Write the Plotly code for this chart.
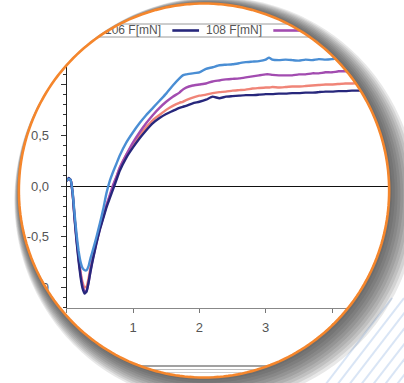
import numpy as np
import plotly.graph_objects as go

# ---------------- data ----------------
time_s = [0.00, 0.03, 0.06, 0.09, 0.12, 0.15, 0.18, 0.21, 0.24, 0.27, 0.30, 0.33, 0.36, 0.40,
          0.45, 0.50, 0.55, 0.60, 0.65, 0.70, 0.75, 0.80, 0.90, 1.00, 1.10, 1.20, 1.30, 1.40,
          1.50, 1.60, 1.70, 1.75, 1.80, 1.90, 2.00, 2.10, 2.20, 2.30, 2.40, 2.50, 2.60, 2.70,
          2.80, 2.90, 3.00, 3.05, 3.10, 3.20, 3.30, 3.40, 3.50, 3.60, 3.70, 3.80, 3.90, 4.00,
          4.10, 4.20, 4.30, 4.40, 4.50, 4.60, 4.70, 4.80, 4.90, 5.00]

f_104 = [0.05, 0.07, 0.06, -0.06, -0.28, -0.48, -0.64, -0.75, -0.81, -0.83, -0.83, -0.79, -0.71, -0.62,
         -0.50, -0.37, -0.23, -0.07, 0.05, 0.14, 0.22, 0.30, 0.43, 0.53, 0.62, 0.70, 0.77, 0.84,
         0.91, 0.99, 1.06, 1.09, 1.10, 1.11, 1.12, 1.155, 1.17, 1.19, 1.195, 1.20, 1.21, 1.22,
         1.225, 1.23, 1.245, 1.265, 1.245, 1.24, 1.245, 1.24, 1.235, 1.245, 1.24, 1.25, 1.245, 1.25,
         1.26, 1.255, 1.26, 1.26, 1.265, 1.26, 1.27, 1.27, 1.275, 1.28]

f_106 = [0.05, 0.07, 0.06, -0.07, -0.31, -0.52, -0.70, -0.85, -0.95, -1.00, -0.99, -0.91, -0.80, -0.68,
         -0.54, -0.41, -0.30, -0.19, -0.10, 0.00, 0.09, 0.18, 0.31, 0.41, 0.50, 0.58, 0.65, 0.70,
         0.75, 0.79, 0.82, 0.83, 0.845, 0.87, 0.89, 0.90, 0.915, 0.925, 0.93, 0.94, 0.945, 0.95,
         0.96, 0.965, 0.97, 0.97, 0.975, 0.97, 0.975, 0.98, 0.98, 0.985, 0.99, 0.995, 1.00, 1.00,
         1.005, 1.01, 1.01, 1.015, 1.02, 1.02, 1.02, 1.025, 1.03, 1.03]

f_108 = [0.05, 0.08, 0.06, -0.08, -0.33, -0.55, -0.74, -0.90, -1.01, -1.06, -1.04, -0.95, -0.84, -0.71,
         -0.56, -0.43, -0.32, -0.21, -0.12, -0.03, 0.06, 0.15, 0.28, 0.38, 0.47, 0.55, 0.62, 0.67,
         0.71, 0.74, 0.77, 0.78, 0.79, 0.815, 0.83, 0.85, 0.88, 0.865, 0.88, 0.885, 0.89, 0.895,
         0.895, 0.90, 0.905, 0.905, 0.905, 0.91, 0.91, 0.915, 0.915, 0.92, 0.92, 0.925, 0.93, 0.93,
         0.935, 0.935, 0.94, 0.94, 0.94, 0.945, 0.945, 0.95, 0.95, 0.95]

f_110 = [0.05, 0.07, 0.06, -0.07, -0.32, -0.53, -0.72, -0.87, -0.98, -1.04, -1.03, -0.95, -0.83, -0.70,
         -0.56, -0.42, -0.31, -0.19, -0.09, 0.01, 0.09, 0.18, 0.31, 0.43, 0.53, 0.62, 0.70, 0.77,
         0.83, 0.88, 0.92, 0.95, 0.97, 0.99, 1.00, 1.01, 1.03, 1.04, 1.05, 1.055, 1.06, 1.07,
         1.08, 1.09, 1.10, 1.10, 1.095, 1.09, 1.09, 1.09, 1.10, 1.10, 1.11, 1.11, 1.12, 1.12,
         1.13, 1.13, 1.13, 1.14, 1.14, 1.14, 1.15, 1.15, 1.15, 1.16]

series_names = ["104 F[mN]", "106 F[mN]", "108 F[mN]", "110 F[mN]"]
series_values = [f_104, f_106, f_108, f_110]
y_tick_vals = [-1.0, -0.5, 0.0, 0.5, 1.0]
x_tick_vals = [0, 1, 2, 3, 4]

# ---------------- styling / geometry ----------------
W, H = 404, 383
series_colors = ["#4A8ED4", "#F08578", "#27277C", "#A24CB0"]
draw_order = [1, 3, 2, 0]          # salmon, purple, navy, blue on top
FONT = "Liberation Sans, Arial, sans-serif"

ax_left_px, ax_right_px = 63.3, W
ax_top_px, ax_bot_px = 45.6, 308.0
px_per_x = 67.0
zero_px, px_per_y = 186.0, 101.5

x_range = [0, (ax_right_px - ax_left_px) / px_per_x]
y_range = [(zero_px - ax_bot_px) / px_per_y, (zero_px - ax_top_px) / px_per_y]
x_dom = [ax_left_px / W, 1.0]
y_dom = [(H - ax_bot_px) / H, (H - ax_top_px) / H]

cx, cy, R = 202.0, 190.5, 187.0


def circle_path(x0, y0, r, n=240, reverse=False):
    a = np.linspace(0, 2 * np.pi, n, endpoint=False)
    if reverse:
        a = a[::-1]
    pts = ["{:.2f},{:.2f}".format(x0 + r * np.cos(t), y0 + r * np.sin(t)) for t in a]
    return "M" + "L".join(pts) + "Z"


fig = go.Figure()

# data curves
for i in draw_order:
    fig.add_trace(go.Scatter(
        x=time_s, y=series_values[i], mode="lines", name=series_names[i],
        line=dict(color=series_colors[i], width=2.4, shape="spline", smoothing=0.4),
        xaxis="x", yaxis="y", hoverinfo="skip", showlegend=False))

# legend row (drawn as text/line traces so the lens can clip it)
leg_y = 30.5
leg_start, leg_step, leg_line = -34, 102, 27
for i, name in enumerate(series_names):
    x0 = leg_start + leg_step * i
    fig.add_trace(go.Scatter(x=[x0, x0 + leg_line], y=[leg_y, leg_y], mode="lines",
                             line=dict(color=series_colors[i], width=2.6),
                             xaxis="x3", yaxis="y3", hoverinfo="skip", showlegend=False))
    fig.add_trace(go.Scatter(x=[x0 + leg_line + 7], y=[leg_y], mode="text", text=[name],
                             textposition="middle right",
                             textfont=dict(family=FONT, size=12, color="#555555"),
                             xaxis="x3", yaxis="y3", hoverinfo="skip", showlegend=False))

tick_font = dict(family=FONT, size=13, color="#555555")

fig.update_layout(
    width=W, height=H, autosize=False,
    margin=dict(l=0, r=0, t=0, b=0, pad=0),
    paper_bgcolor="white", plot_bgcolor="rgba(0,0,0,0)",
    showlegend=False,
    xaxis=dict(domain=x_dom, range=x_range, anchor="y", tickmode="array", tickvals=x_tick_vals,
               ticktext=[str(v) for v in x_tick_vals], ticks="outside", ticklen=4,
               tickcolor="#777777", showline=True, linecolor="#888888", linewidth=1,
               showgrid=False, zeroline=False, tickfont=tick_font, ticklabelstandoff=3,
               fixedrange=True),
    xaxis2=dict(overlaying="x", anchor="y", range=x_range, tickmode="array", tickvals=x_tick_vals,
                ticks="inside", ticklen=5, tickcolor="#777777", showticklabels=False,
                minor=dict(ticks="inside", ticklen=4, dtick=0.2, tick0=0, tickcolor="#777777"),
                showline=True, mirror="ticks", linecolor="#888888", linewidth=1,
                showgrid=False, zeroline=False, fixedrange=True),
    yaxis=dict(domain=y_dom, range=y_range, anchor="x", tickmode="array", tickvals=y_tick_vals,
               ticktext=["{:.1f}".format(v).replace(".", ",") for v in y_tick_vals],
               ticks="outside", ticklen=5, tickcolor="#333333",
               minor=dict(ticks="outside", ticklen=3, dtick=0.1, tick0=0, tickcolor="#333333"),
               showline=True, linecolor="#222222", linewidth=1, showgrid=False,
               zeroline=True, zerolinecolor="#111111", zerolinewidth=1,
               tickfont=tick_font, ticklabelstandoff=9, fixedrange=True),
    yaxis2=dict(overlaying="y", anchor="x", range=y_range, tickmode="array", tickvals=y_tick_vals,
                ticks="inside", ticklen=5, tickcolor="#333333", showticklabels=False,
                minor=dict(ticks="inside", ticklen=3, dtick=0.1, tick0=0, tickcolor="#333333"),
                showline=False, showgrid=False, zeroline=False, fixedrange=True),
    xaxis3=dict(domain=[0, 1], range=[0, W], anchor="y3", visible=False, fixedrange=True),
    yaxis3=dict(domain=[0, 1], range=[H, 0], anchor="x3", visible=False, fixedrange=True),
)

shapes = []
ref = dict(xref="x3", yref="y3", layer="above")
# legend frame
shapes.append(dict(type="rect", x0=-5, x1=W + 5, y0=24, y1=37,
                   line=dict(color="#9a9a9a", width=1), fillcolor="rgba(0,0,0,0)", **ref))
# scrollbar-like strip under the chart
for yy, col in [(366, "#444444"), (369.5, "#bdbdbd"), (372.5, "#cfcfcf")]:
    shapes.append(dict(type="line", x0=-5, x1=W + 5, y0=yy, y1=yy,
                       line=dict(color=col, width=1.2), **ref))
# white mask outside the lens
rect = "M-20,-20L-20,{0}L{1},{0}L{1},-20Z".format(H + 20, W + 20)
shapes.append(dict(type="path", path=rect + circle_path(cx, cy, R),
                   fillcolor="white", line=dict(width=0), **ref))
# faint blue streaks in the background corner
for k in range(7):
    xs = 322 + 12 * k
    shapes.append(dict(type="line", x0=xs, y0=H + 5, x1=xs + 70, y1=H - 85,
                       line=dict(color="rgba(185,208,236,0.55)", width=2), **ref))
# drop shadow of the lens
N = 10
for k in range(1, N + 1):
    t = k / N
    outer = circle_path(cx + 12 * t, cy + 10 * t, R + 16.5 * t)
    inner = circle_path(cx, cy, R - 0.5, reverse=True)
    shapes.append(dict(type="path", path=outer + inner,
                       fillcolor="rgba(45,45,45,0.11)", line=dict(width=0), **ref))
# orange rim
shapes.append(dict(type="path", path=circle_path(cx, cy, R), fillcolor="rgba(0,0,0,0)",
                   line=dict(color="#F5862C", width=2.6), **ref))

fig.update_layout(shapes=shapes)
fig.write_html("out.html", config={"displayModeBar": False, "staticPlot": True},
               post_script="document.body.style.margin='0';document.body.style.overflow='hidden';")
